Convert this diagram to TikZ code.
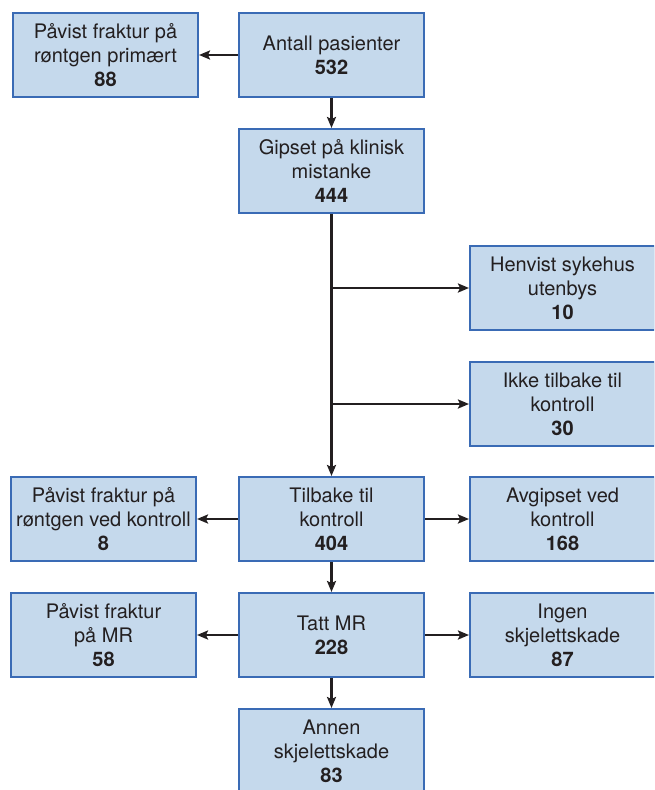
\documentclass[tikz,border=0pt]{standalone}
\usepackage{fontspec}
\setmainfont{TeX Gyre Heros}
\usepackage{xcolor}
\usetikzlibrary{arrows.meta}
\definecolor{boxfill}{HTML}{C5D9EC}
\definecolor{boxline}{HTML}{3A6BB5}
\definecolor{ink}{HTML}{231F20}

\begin{document}
\begin{tikzpicture}[
    x=1pt, y=-1pt,
    font=\fontsize{20}{24}\selectfont,
    box/.style={draw=boxline, line width=2pt, fill=boxfill, text=ink,
                minimum width=185pt, minimum height=84pt, inner sep=0pt,
                align=center},
    arrow/.style={-{Stealth[length=11pt, width=9pt, inset=2pt]}, line width=2.4pt, ink},
  ]
    \clip (0,0) rectangle (654,790);

    \node[box] (prim)  at (105.5, 55)  {Påvist fraktur på\\røntgen primært\\\textbf{88}};
    \node[box] (total) at (331.5, 55)  {Antall pasienter\\\textbf{532}};
    \node[box] (gips)  at (331.5, 171) {Gipset på klinisk\\mistanke\\\textbf{444}};
    \node[box] (henv)  at (562.5, 288) {Henvist sykehus\\utenbys\\\textbf{10}};
    \node[box] (ikke)  at (562.5, 404) {Ikke tilbake til\\kontroll\\\textbf{30}};
    \node[box] (tilb)  at (331.5, 519) {Tilbake til\\kontroll\\\textbf{404}};
    \node[box] (rtgk)  at (103.5, 519) {Påvist fraktur på\\røntgen ved kontroll\\\textbf{8}};
    \node[box] (avg)   at (562.5, 519) {Avgipset ved\\kontroll\\\textbf{168}};
    \node[box] (mr)    at (331.5, 635) {Tatt MR\\\textbf{228}};
    \node[box] (frmr)  at (103.5, 635) {Påvist fraktur\\på MR\\\textbf{58}};
    \node[box] (ingen) at (562.5, 635) {Ingen\\skjelettskade\\\textbf{87}};
    \node[box] (annen) at (331.5, 751) {Annen\\skjelettskade\\\textbf{83}};

    \draw[arrow] (total) -- (prim);
    \draw[arrow] (total) -- (gips);
    \draw[arrow] (gips) -- (tilb);
    \draw[arrow] (gips.south |- henv.west) -- (henv.west);
    \draw[arrow] (gips.south |- ikke.west) -- (ikke.west);
    \draw[arrow] (tilb) -- (rtgk);
    \draw[arrow] (tilb) -- (avg);
    \draw[arrow] (tilb) -- (mr);
    \draw[arrow] (mr) -- (frmr);
    \draw[arrow] (mr) -- (ingen);
    \draw[arrow] (mr) -- (annen);
  \end{tikzpicture}
\end{document}
